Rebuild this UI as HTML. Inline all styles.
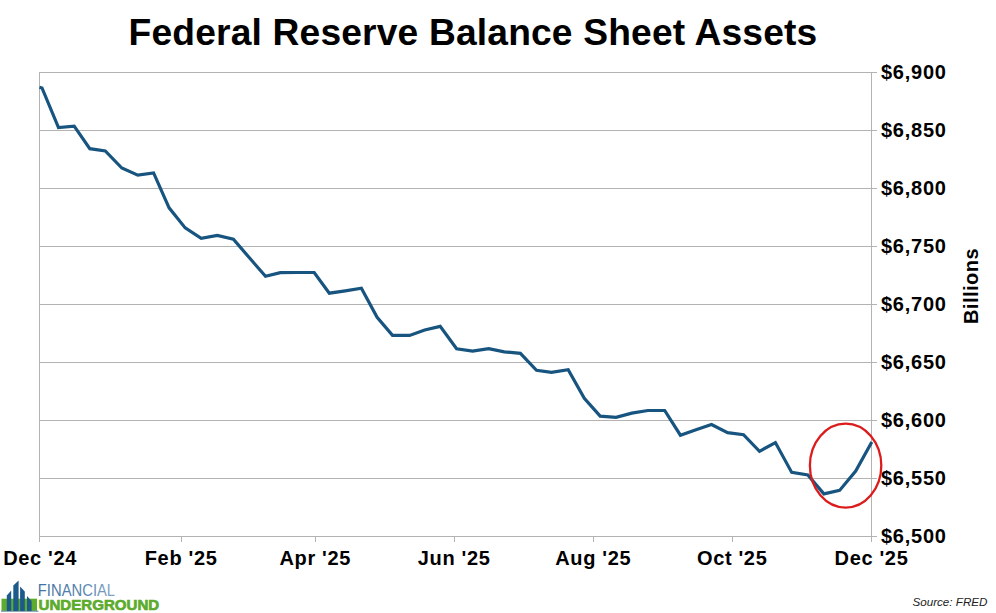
<!DOCTYPE html>
<html><head><meta charset="utf-8"><title>Federal Reserve Balance Sheet Assets</title>
<style>html,body{margin:0;padding:0;background:#fff}body{width:996px;height:613px;overflow:hidden}</style></head>
<body>
<svg width="996" height="613" viewBox="0 0 996 613" style="display:block;font-family:'Liberation Sans',sans-serif">
<rect width="996" height="613" fill="#fff"/>
<line x1="39.5" y1="72.5" x2="877" y2="72.5" stroke="#b3b3b3" stroke-width="1"/>
<line x1="39.5" y1="130.5" x2="877" y2="130.5" stroke="#b3b3b3" stroke-width="1"/>
<line x1="39.5" y1="188.5" x2="877" y2="188.5" stroke="#b3b3b3" stroke-width="1"/>
<line x1="39.5" y1="246.5" x2="877" y2="246.5" stroke="#b3b3b3" stroke-width="1"/>
<line x1="39.5" y1="304.5" x2="877" y2="304.5" stroke="#b3b3b3" stroke-width="1"/>
<line x1="39.5" y1="362.5" x2="877" y2="362.5" stroke="#b3b3b3" stroke-width="1"/>
<line x1="39.5" y1="420.5" x2="877" y2="420.5" stroke="#b3b3b3" stroke-width="1"/>
<line x1="39.5" y1="478.5" x2="877" y2="478.5" stroke="#b3b3b3" stroke-width="1"/>
<line x1="39.5" y1="536.5" x2="877" y2="536.5" stroke="#b3b3b3" stroke-width="1"/>
<line x1="39.5" y1="72" x2="39.5" y2="537" stroke="#b3b3b3" stroke-width="1"/>
<line x1="871.5" y1="72" x2="871.5" y2="537" stroke="#b3b3b3" stroke-width="1"/>
<line x1="39.5" y1="536" x2="39.5" y2="542" stroke="#b3b3b3" stroke-width="1"/>
<line x1="181.5" y1="536" x2="181.5" y2="542" stroke="#b3b3b3" stroke-width="1"/>
<line x1="315.5" y1="536" x2="315.5" y2="542" stroke="#b3b3b3" stroke-width="1"/>
<line x1="454.5" y1="536" x2="454.5" y2="542" stroke="#b3b3b3" stroke-width="1"/>
<line x1="593.5" y1="536" x2="593.5" y2="542" stroke="#b3b3b3" stroke-width="1"/>
<line x1="732.5" y1="536" x2="732.5" y2="542" stroke="#b3b3b3" stroke-width="1"/>
<line x1="871.5" y1="536" x2="871.5" y2="542" stroke="#b3b3b3" stroke-width="1"/>
<text x="473" y="44.5" text-anchor="middle" font-size="37.2" letter-spacing="0.165" font-weight="bold" fill="#000">Federal Reserve Balance Sheet Assets</text>
<text x="881" y="78.9" font-size="20" letter-spacing="0.74" font-weight="bold" fill="#000">$6,900</text>
<text x="881" y="136.9" font-size="20" letter-spacing="0.74" font-weight="bold" fill="#000">$6,850</text>
<text x="881" y="194.9" font-size="20" letter-spacing="0.74" font-weight="bold" fill="#000">$6,800</text>
<text x="881" y="252.9" font-size="20" letter-spacing="0.74" font-weight="bold" fill="#000">$6,750</text>
<text x="881" y="310.9" font-size="20" letter-spacing="0.74" font-weight="bold" fill="#000">$6,700</text>
<text x="881" y="368.9" font-size="20" letter-spacing="0.74" font-weight="bold" fill="#000">$6,650</text>
<text x="881" y="426.9" font-size="20" letter-spacing="0.74" font-weight="bold" fill="#000">$6,600</text>
<text x="881" y="484.9" font-size="20" letter-spacing="0.74" font-weight="bold" fill="#000">$6,550</text>
<text x="881" y="542.9" font-size="20" letter-spacing="0.74" font-weight="bold" fill="#000">$6,500</text>
<text x="40.1" y="565" text-anchor="middle" font-size="20" letter-spacing="0.66" font-weight="bold" fill="#000">Dec '24</text>
<text x="181.1" y="565" text-anchor="middle" font-size="20" letter-spacing="0.66" font-weight="bold" fill="#000">Feb '25</text>
<text x="315.3" y="565" text-anchor="middle" font-size="20" letter-spacing="0.66" font-weight="bold" fill="#000">Apr '25</text>
<text x="454.2" y="565" text-anchor="middle" font-size="20" letter-spacing="0.66" font-weight="bold" fill="#000">Jun '25</text>
<text x="593.3" y="565" text-anchor="middle" font-size="20" letter-spacing="0.66" font-weight="bold" fill="#000">Aug '25</text>
<text x="732.2" y="565" text-anchor="middle" font-size="20" letter-spacing="0.66" font-weight="bold" fill="#000">Oct '25</text>
<text x="871.5" y="565" text-anchor="middle" font-size="20" letter-spacing="0.66" font-weight="bold" fill="#000">Dec '25</text>
<text transform="translate(977.7,286.0) rotate(-90)" text-anchor="middle" font-size="20" letter-spacing="0.5" font-weight="bold" fill="#000">Billions</text>
<text x="987.5" y="606" text-anchor="end" font-size="11.65" font-style="italic" fill="#222">Source: FRED</text>
<path d="M39.5,87.2 L42.0,88.0 L58.5,127.6 L74.2,126.2 L89.8,148.7 L105.3,150.9 L121.8,168.0 L137.8,175.2 L153.6,172.9 L169.1,207.8 L185.2,227.9 L201.2,238.3 L217.3,235.5 L233.4,239.3 L249.4,257.8 L265.5,276.3 L280.3,272.6 L297.1,272.5 L314.2,272.5 L329.3,293.2 L345.3,290.8 L361.4,288.2 L377.1,317.3 L392.5,335.4 L409.6,335.4 L424.7,330.0 L440.2,326.4 L456.6,348.8 L472.6,351.2 L488.7,348.6 L504.3,351.8 L520.4,353.4 L536.5,370.3 L551.5,372.3 L568.2,369.7 L584.3,398.4 L600.2,416.1 L616.1,417.3 L631.8,413.1 L647.9,410.5 L664.7,410.5 L680.4,435.2 L696.0,429.8 L711.5,424.6 L727.6,432.6 L743.5,434.7 L759.5,451.3 L775.4,442.6 L791.7,472.4 L807.8,474.9 L823.9,493.9 L839.6,490.4 L855.7,471.0 L871.8,441.9" fill="none" stroke="#17547f" stroke-width="3.2" stroke-linejoin="miter" stroke-linecap="butt"/>
<ellipse cx="845.6" cy="465.6" rx="35.7" ry="42" fill="none" stroke="#dc1c1c" stroke-width="2.3"/>
<defs><linearGradient id="fg" gradientUnits="userSpaceOnUse" x1="38" y1="0" x2="116" y2="0"><stop offset="0" stop-color="#3f73a2"/><stop offset="0.55" stop-color="#5583ad"/><stop offset="1" stop-color="#86a8c8"/></linearGradient></defs>
<g>
<rect x="1.5" y="598.7" width="35.5" height="12.1" fill="#5cab2c"/>
<polygon points="6.8,611 6.8,595.5 11.2,590.5 11.2,611" fill="#1c5a8c"/>
<polygon points="13.3,611 13.3,585.5 18.6,580.6 18.6,611" fill="#1c5a8c"/>
<polygon points="20.1,611 20.1,586.5 24.8,591.4 24.8,611" fill="#1c5a8c"/>
<polygon points="27,611 27,596 31.6,601 31.6,611" fill="#1c5a8c"/>
<rect x="1" y="610.7" width="37.5" height="0.9" fill="#24607a" opacity="0.85"/>
<text x="37.8" y="596.3" font-size="16" fill="url(#fg)" textLength="77.3" lengthAdjust="spacingAndGlyphs">FINANCIAL</text>
<text x="38.6" y="610.3" font-size="15.5" font-weight="bold" fill="#5cab2c" stroke="#5cab2c" stroke-width="0.7" textLength="120.6" lengthAdjust="spacingAndGlyphs">UNDERGROUND</text>
</g>
</svg>
</body></html>
